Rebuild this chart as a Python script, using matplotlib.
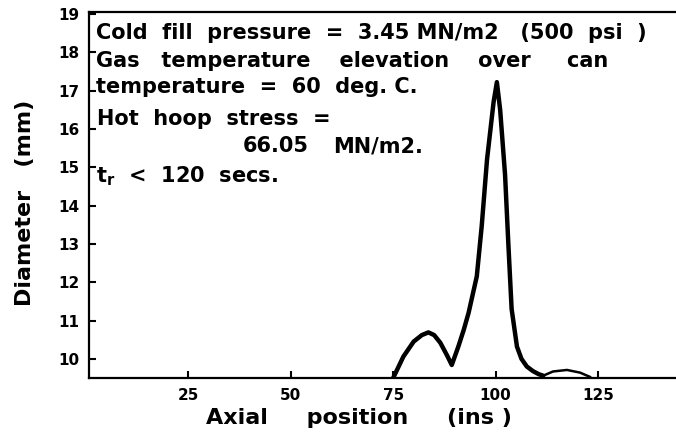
import matplotlib
matplotlib.use('Agg')
import matplotlib.pyplot as plt

# Diameter profile
axial_pos = [75, 77.5, 80, 82, 83.6, 85, 86.5, 88.1, 89.3, 90.9, 92.2, 93.4,
             95.4, 96.6, 97.9, 99.5, 100.3, 101.1, 102.3, 103.1, 103.9, 105.2,
             106.3, 107.6, 109.1, 110.5, 111.6]
diameter = [9.5, 10.06, 10.45, 10.62, 10.69, 10.62, 10.42, 10.1, 9.84, 10.32,
            10.75, 11.2, 12.15, 13.46, 15.2, 16.7, 17.22, 16.5, 14.8, 13.0,
            11.3, 10.32, 10.0, 9.8, 9.68, 9.6, 9.56]

# small bump after the peak
bump_pos = [111.6, 114, 117.4, 120.6, 123]
bump_dia = [9.56, 9.67, 9.71, 9.64, 9.53]

x_ticks = [25, 50, 75, 100, 125]
y_ticks = [10, 11, 12, 13, 14, 15, 16, 17, 18, 19]

notes = [
    ("Cold  fill  pressure  =  3.45 MN/m2   (500  psi  )", 96, 39),
    ("Gas   temperature    elevation    over     can", 96, 67),
    ("temperature  =  60  deg. C.", 96, 93),
    ("Hot  hoop  stress  =", 97, 125),
    ("66.05", 243, 152),
    ("MN/m2.", 333, 152),
    ("t$_r$  <  120  secs.", 96, 182),
]

plt.rcParams['mathtext.default'] = 'regular'

fig = plt.figure(figsize=(6.76, 4.40), dpi=100)
ax = fig.add_axes([89 / 676, 62 / 440, 1 - 89 / 676, 366 / 440])

ax.plot(axial_pos, diameter, color='black', linewidth=3.2,
        solid_capstyle='round', solid_joinstyle='round')
ax.plot(bump_pos, bump_dia, color='black', linewidth=1.8)

ax.set_xlim(0.8, 144)
ax.set_ylim(9.5, 19.05)
ax.set_xticks(x_ticks)
ax.set_yticks(y_ticks)
ax.tick_params(direction='in', length=5, width=1.5, labelsize=11, pad=7)
for lab in ax.get_xticklabels() + ax.get_yticklabels():
    lab.set_fontweight('bold')

ax.spines['right'].set_visible(False)
for s in ['left', 'bottom', 'top']:
    ax.spines[s].set_linewidth(1.6)

fig.text(359 / 676, 1 - 418 / 440, "Axial     position     (ins )", ha='center',
         va='center', fontsize=16, fontweight='bold')
fig.text(25 / 676, 1 - 203 / 440, "Diameter   (mm)", ha='center',
         va='center', rotation=90, fontsize=16, fontweight='bold')

for txt, px, py in notes:
    fig.text(px / 676, 1 - py / 440, txt, ha='left', va='baseline',
             fontsize=15, fontweight='bold')

fig.savefig('out.png', dpi=100)
